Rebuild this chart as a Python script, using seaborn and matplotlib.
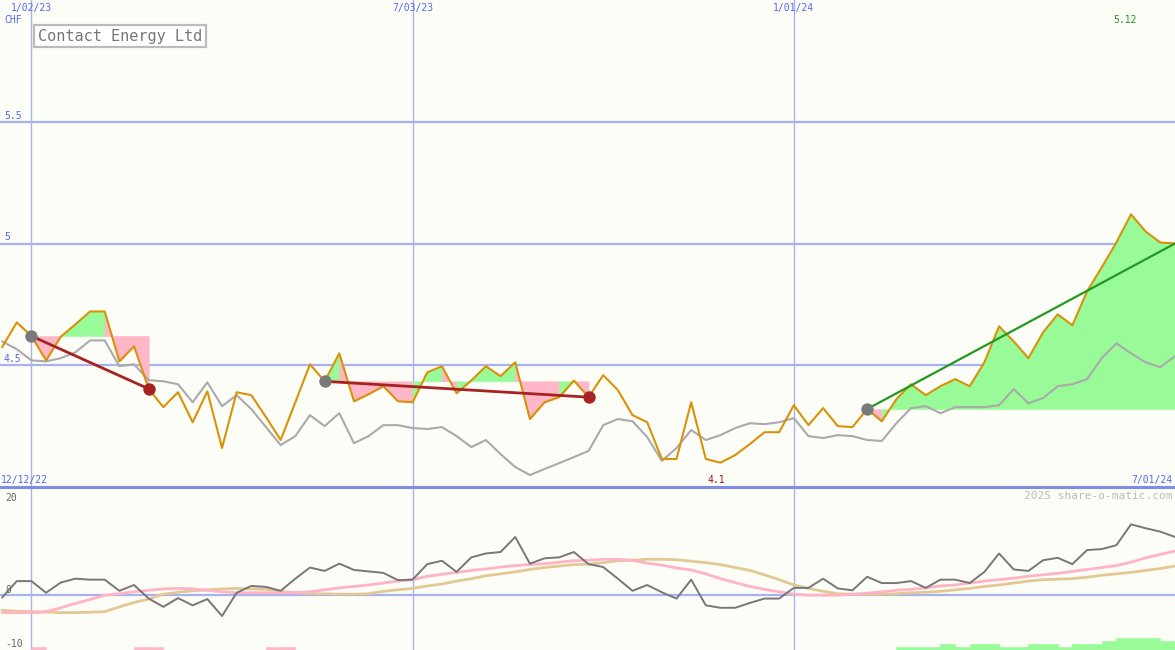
import numpy as np
import pandas as pd
import matplotlib
matplotlib.use("Agg")
import matplotlib.pyplot as plt
import seaborn as sns

# ---------------- data ----------------
dates = pd.date_range("2022-12-19", periods=81, freq="7D")

price = [4.574, 4.676, 4.620, 4.520, 4.617, 4.668, 4.721, 4.721, 4.516, 4.578,
         4.403, 4.328, 4.389, 4.266, 4.393, 4.160, 4.389, 4.377, 4.287, 4.193,
         4.348, 4.504, 4.434, 4.549, 4.352, 4.381, 4.414, 4.352, 4.348, 4.471,
         4.496, 4.385, 4.437, 4.496, 4.455, 4.512, 4.279, 4.348, 4.369, 4.437,
         4.369, 4.459, 4.398, 4.295, 4.266, 4.115, 4.115, 4.348, 4.115, 4.100,
         4.131, 4.176, 4.225, 4.225, 4.336, 4.254, 4.324, 4.250, 4.246, 4.320,
         4.270, 4.361, 4.422, 4.377, 4.414, 4.443, 4.414, 4.512, 4.660, 4.598,
         4.529, 4.635, 4.709, 4.664, 4.803, 4.902, 5.004, 5.120, 5.049, 5.004,
         5.000]

moving_avg = [4.598, 4.566, 4.520, 4.516, 4.529, 4.553, 4.602, 4.602, 4.496, 4.504,
              4.439, 4.434, 4.422, 4.348, 4.430, 4.332, 4.377, 4.320, 4.246, 4.172,
              4.209, 4.295, 4.250, 4.303, 4.180, 4.209, 4.254, 4.254, 4.242, 4.238,
              4.246, 4.209, 4.164, 4.193, 4.135, 4.082, 4.049, 4.074, 4.098, 4.123,
              4.148, 4.254, 4.279, 4.270, 4.205, 4.107, 4.160, 4.234, 4.193, 4.213,
              4.242, 4.262, 4.258, 4.266, 4.283, 4.209, 4.201, 4.213, 4.209, 4.193,
              4.189, 4.262, 4.324, 4.332, 4.303, 4.328, 4.328, 4.328, 4.336, 4.402,
              4.344, 4.365, 4.414, 4.422, 4.443, 4.529, 4.590, 4.549, 4.512, 4.492,
              4.537]

momentum = [-0.5, 2.9, 2.9, 0.5, 2.6, 3.4, 3.2, 3.2, 0.9, 2.1,
            -0.7, -2.4, -0.6, -2.1, -0.8, -4.3, 0.5, 1.9, 1.7, 0.9,
            3.4, 5.7, 5.0, 6.5, 5.2, 4.9, 4.6, 3.1, 3.2, 6.4,
            7.1, 4.8, 7.8, 8.6, 8.9, 12.0, 6.5, 7.6, 7.8, 8.9,
            6.4, 5.8, 3.4, 0.9, 2.1, 0.6, -0.7, 3.2, -2.1, -2.6,
            -2.6, -1.6, -0.7, -0.7, 1.5, 1.5, 3.4, 1.4, 1.0, 3.8,
            2.5, 2.5, 2.9, 1.5, 3.2, 3.2, 2.5, 4.8, 8.6, 5.3,
            5.0, 7.2, 7.7, 6.4, 9.3, 9.5, 10.3, 14.6, 13.8, 13.1,
            12.0]

momentum_fast = [-3.6, -3.6, -3.6, -3.4, -2.6, -1.7, -0.9, 0.0, 0.3, 0.7,
                 1.0, 1.3, 1.4, 1.3, 1.0, 0.7, 0.5, 0.5, 0.5, 0.5,
                 0.5, 0.7, 1.1, 1.5, 1.8, 2.1, 2.5, 2.9, 3.2, 3.9,
                 4.3, 4.7, 5.1, 5.4, 5.8, 6.1, 6.3, 6.5, 6.8, 7.1,
                 7.2, 7.4, 7.4, 7.2, 6.6, 6.2, 5.6, 5.2, 4.4, 3.4,
                 2.6, 1.8, 1.2, 0.7, 0.2, 0.0, 0.0, 0.0, 0.2, 0.4,
                 0.7, 1.0, 1.2, 1.5, 1.9, 2.1, 2.5, 2.9, 3.2, 3.5,
                 3.9, 4.2, 4.5, 4.9, 5.3, 5.7, 6.1, 6.8, 7.7, 8.4,
                 9.1]

momentum_slow = [-3.1, -3.3, -3.4, -3.5, -3.6, -3.6, -3.5, -3.4, -2.4, -1.5,
                 -0.8, 0.2, 0.6, 0.9, 1.1, 1.3, 1.4, 1.3, 1.2, 0.8,
                 0.5, 0.3, 0.3, 0.2, 0.2, 0.3, 0.8, 1.1, 1.4, 1.9,
                 2.3, 2.9, 3.4, 4.0, 4.4, 4.8, 5.3, 5.7, 6.0, 6.3,
                 6.4, 6.7, 7.1, 7.2, 7.4, 7.4, 7.3, 7.0, 6.7, 6.3,
                 5.7, 5.1, 4.2, 3.2, 2.1, 1.4, 0.8, 0.3, 0.2, 0.2,
                 0.2, 0.3, 0.5, 0.6, 0.8, 1.1, 1.4, 1.8, 2.1, 2.5,
                 2.9, 3.2, 3.3, 3.4, 3.7, 4.1, 4.4, 4.7, 5.1, 5.5,
                 6.0]

# signal strength per week (negative = pink, positive = green)
signal = [0, 0, -1, 0, 0, 0, 0, 0, 0, -1,
          -1, 0, 0, 0, 0, 0, 0, 0, -1, -1,
          0, 0, 0, 0, 0, 0, 0, 0, 0, 0,
          0, 0, 0, 0, 0, 0, 0, 0, 0, 0,
          0, 0, 0, 0, 0, 0, 0, 0, 0, 0,
          0, 0, 0, 0, 0, 0, 0, 0, 0, 0,
          0, 1, 1, 1, 2, 1, 2, 2, 1, 1,
          2, 2, 1, 2, 2, 3, 4, 4, 4, 3,
          0]

# trend segments: (start index, end index)
trend_segments = [(2, 10), (22, 40), (59, 80)]

grid_dates = ["2023-01-02", "2023-07-03", "2024-01-01"]
grid_labels = ["1/02/23", "7/03/23", "1/01/24"]
price_ticks = [4.5, 5.0, 5.5]
price_tick_labels = ["4.5", "5", "5.5"]
mom_ticks = [20, 0, -10]

# ---------------- style ----------------
sns.set_style("white")
plt.rcParams["font.family"] = ["DejaVu Sans Mono", "DejaVu Sans"]

BG = "#fcfdf7"
GRID = "#a6b3f0"
SEP = "#7f8de6"
TXT = "#5566ee"
ORANGE = "#d8920a"
GREY = "#aaaaaa"
RED = "#a82222"
GREEN = "#229922"
FILL_G = "#98fb98"
FILL_P = "#ffb6c6"

W, H = 1175, 650
fig = plt.figure(figsize=(W / 100, H / 100), dpi=100, facecolor=BG)
top_h = 487
ax1 = fig.add_axes([0, (H - top_h) / H, 1, top_h / H])
ax2 = fig.add_axes([0, 0, 1, (H - top_h) / H])
x_left = dates[0] - pd.Timedelta(days=1)
for ax in (ax1, ax2):
    ax.set_facecolor(BG)
    for s in ax.spines.values():
        s.set_visible(False)
    ax.set_xticks([])
    ax.set_yticks([])
    ax.set_xlim(x_left, dates[-1])

ax1.set_ylim(4.0, 6.0)
ax2.set_ylim(-11.3, 22.3)

# grid
for gd in grid_dates:
    for ax in (ax1, ax2):
        ax.axvline(pd.Timestamp(gd), color=GRID, lw=1.0, zorder=1)
for t in price_ticks:
    ax1.axhline(t, color=GRID, lw=1.6, zorder=1)
ax2.axhline(0, color=GRID, lw=1.6, zorder=1)

# fills for trend segments: contiguous runs of same colour as one polygon
for a, b in trend_segments:
    level = price[a]
    kinds = [price[i + 1] >= level for i in range(a, b)]
    i = 0
    while i < len(kinds):
        j = i
        while j + 1 < len(kinds) and kinds[j + 1] == kinds[i]:
            j += 1
        s0, s1 = a + i, a + j + 1
        col = FILL_G if kinds[i] else FILL_P
        ax1.fill_between(dates[s0:s1 + 1], level, price[s0:s1 + 1], color=col,
                         lw=0.4, edgecolor=col, zorder=2)
        i = j + 1

# lines
sns.lineplot(x=dates, y=moving_avg, ax=ax1, color=GREY, lw=1.5, zorder=3)
sns.lineplot(x=dates, y=price, ax=ax1, color=ORANGE, lw=1.5, zorder=4)

for a, b in trend_segments:
    up = price[b] > price[a]
    col = GREEN if up else RED
    sns.lineplot(x=[dates[a], dates[b]], y=[price[a], price[b]], ax=ax1,
                 color=col, lw=1.6 if up else 2.0, zorder=5)
    ax1.scatter([dates[a]], [price[a]], s=80, color="#7a7a7a", zorder=6, lw=0)
    if not up:
        ax1.scatter([dates[b]], [price[b]], s=80, color=RED, zorder=6, lw=0)

# bottom panel
axb = ax2.twinx()
axb.set_ylim(0, 54.3)
axb.set_xlim(x_left, dates[-1])
axb.set_yticks([])
for s in axb.spines.values():
    s.set_visible(False)
sig = np.array(signal)
cols = [FILL_G if v > 0 else FILL_P for v in sig]
axb.bar(dates, np.abs(sig), width=7, align="edge", color=cols, lw=0.4,
        edgecolor=cols, zorder=1)

sns.lineplot(x=dates, y=momentum_slow, ax=ax2, color="#e2c994", lw=2.0, zorder=3)
sns.lineplot(x=dates, y=momentum_fast, ax=ax2, color="#ffb3c6", lw=2.0, zorder=3)
sns.lineplot(x=dates, y=momentum, ax=ax2, color="#777777", lw=1.4, zorder=4)

# separator
fig.add_artist(plt.Line2D([0, 1], [(H - top_h) / H] * 2, color=SEP, lw=2.2,
                          transform=fig.transFigure))


def ptext(x, y, s, **kw):
    fig.text(x / W, 1 - y / H, s, **kw)


# labels
for gd, lab in zip(grid_dates, grid_labels):
    xf = ax1.transData.transform((matplotlib.dates.date2num(pd.Timestamp(gd)), 5))[0]
    ptext(xf, 8, lab, color=TXT, fontsize=7, ha="center", va="center")
ptext(4, 20, "CHF", color=TXT, fontsize=7, ha="left", va="center")
for t, lab in zip(price_ticks, price_tick_labels):
    yp = ax1.transData.transform((0, t))[1]
    ptext(4, H - yp - 6, lab, color=TXT, fontsize=7, ha="left", va="center")
ptext(1, 480, "12/12/22", color=TXT, fontsize=7, ha="left", va="center")
ptext(1172, 480, "7/01/24", color=TXT, fontsize=7, ha="right", va="center")
ptext(1125, 20, "%.2f" % max(price), color="#229922", fontsize=7, ha="center", va="center")
ptext(716, 480, "%.1f" % min(price), color="#aa1111", fontsize=7, ha="center", va="center")
ptext(1172, 496, "2025 share-o-matic.com", color="#bbbbbb", fontsize=8,
      ha="right", va="center")
for t in mom_ticks:
    yp = ax2.transData.transform((0, t))[1]
    ptext(5, H - yp - (5 if t == 0 else 0), str(t), color="#666666", fontsize=7,
          ha="left", va="center")

ptext(38, 36, "Contact Energy Ltd", color="#777777", fontsize=11, ha="left",
      va="center", bbox=dict(boxstyle="square,pad=0.25", fc="white", ec="#bbbbbb", lw=1.6))

fig.savefig("out.png", dpi=100, facecolor=BG)
